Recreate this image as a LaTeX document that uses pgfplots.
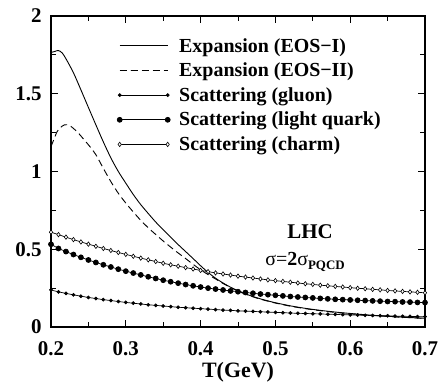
\documentclass[border=0pt]{standalone}
\usepackage{fontspec}
\setmainfont{Liberation Serif}
\usepackage{pgfplots}
\pgfplotsset{compat=1.18}
\usepackage{pgfplotstable}

\pgfplotstableread{
T g q c
0.20 0.238 0.532 0.610
0.21 0.226 0.505 0.594
0.22 0.216 0.485 0.578
0.23 0.207 0.466 0.562
0.24 0.198 0.448 0.547
0.25 0.190 0.431 0.533
0.26 0.183 0.415 0.519
0.27 0.176 0.400 0.505
0.28 0.170 0.386 0.492
0.29 0.164 0.372 0.479
0.30 0.158 0.359 0.467
0.31 0.153 0.347 0.455
0.32 0.148 0.335 0.443
0.33 0.143 0.323 0.432
0.34 0.139 0.312 0.421
0.35 0.135 0.301 0.410
0.36 0.131 0.291 0.400
0.37 0.127 0.282 0.391
0.38 0.124 0.273 0.382
0.39 0.121 0.265 0.373
0.40 0.118 0.257 0.364
0.41 0.115 0.250 0.356
0.42 0.112 0.244 0.348
0.43 0.109 0.238 0.341
0.44 0.107 0.232 0.334
0.45 0.104 0.227 0.327
0.46 0.102 0.222 0.321
0.47 0.100 0.217 0.315
0.48 0.098 0.212 0.309
0.49 0.096 0.208 0.303
0.50 0.094 0.204 0.298
0.51 0.092 0.200 0.293
0.52 0.090 0.196 0.288
0.53 0.088 0.193 0.283
0.54 0.087 0.190 0.278
0.55 0.085 0.187 0.274
0.56 0.084 0.184 0.269
0.57 0.082 0.181 0.265
0.58 0.081 0.178 0.261
0.59 0.079 0.176 0.257
0.60 0.078 0.174 0.253
0.61 0.077 0.172 0.249
0.62 0.075 0.170 0.246
0.63 0.074 0.168 0.242
0.64 0.073 0.166 0.239
0.65 0.072 0.164 0.235
0.66 0.070 0.163 0.232
0.67 0.069 0.161 0.229
0.68 0.068 0.160 0.226
0.69 0.067 0.158 0.223
0.70 0.066 0.157 0.220
}\scat

\pgfplotstableread{
T y
0.200 1.765
0.205 1.772
0.210 1.778
0.215 1.762
0.220 1.725
0.230 1.635
0.240 1.525
0.250 1.412
0.260 1.300
0.270 1.190
0.280 1.088
0.290 1.000
0.300 0.925
0.310 0.852
0.320 0.787
0.330 0.730
0.340 0.675
0.350 0.625
0.360 0.578
0.370 0.530
0.380 0.485
0.390 0.440
0.400 0.394
0.410 0.351
0.420 0.314
0.430 0.283
0.440 0.256
0.450 0.233
0.460 0.213
0.470 0.196
0.480 0.181
0.490 0.168
0.500 0.156
0.520 0.136
0.540 0.120
0.560 0.107
0.580 0.096
0.600 0.087
0.620 0.079
0.640 0.072
0.660 0.066
0.680 0.061
0.700 0.056
}\eosI

\pgfplotstableread{
T y
0.200 1.160
0.205 1.220
0.208 1.255
0.212 1.280
0.218 1.300
0.225 1.295
0.235 1.255
0.245 1.200
0.252 1.160
0.260 1.108
0.270 1.020
0.280 0.935
0.290 0.860
0.300 0.797
0.310 0.740
0.320 0.686
0.330 0.638
0.340 0.595
0.350 0.553
0.360 0.514
0.370 0.476
0.380 0.440
0.390 0.403
0.400 0.368
0.410 0.337
0.420 0.309
0.430 0.280
0.440 0.254
0.450 0.231
0.460 0.211
0.470 0.194
0.480 0.179
0.490 0.166
0.500 0.154
0.520 0.134
0.540 0.118
0.560 0.105
0.580 0.094
0.600 0.085
0.620 0.077
0.640 0.071
0.660 0.065
0.680 0.060
0.700 0.055
}\eosII

\begin{document}
\begin{tikzpicture}
\useasboundingbox (0,0) rectangle (438bp,385bp);
\begin{axis}[
  at={(51bp,58bp)}, anchor=south west,
  scale only axis, width=374bp, height=311bp,
  xmin=0.2, xmax=0.7, ymin=0, ymax=2,
  xtick={0.2,0.3,0.4,0.5,0.6,0.7},
  ytick={0,0.5,1,1.5,2},
  xticklabels={0.2,0.3,0.4,0.5,0.6,0.7},
  yticklabels={0,0.5,1,1.5,2},
  minor tick num=1,
  tick align=inside,
  major tick length=7bp, minor tick length=5bp,
  every tick/.style={line width=0.9bp, black},
  axis line style={line width=1.3bp},
  tick label style={font=\bfseries\fontsize{21}{21}\selectfont},
  /pgf/number format/assume math mode=true,
  yticklabel style={xshift=-6bp},
  xticklabel style={yshift=-11bp},
  xlabel={T(GeV)},
  xlabel style={at={(axis description cs:0.5,0)}, anchor=north, yshift=-35bp, inner sep=0pt, font=\bfseries\fontsize{22}{22}\selectfont},
  legend cell align=left,
  legend image code/.code={\draw[#1] plot coordinates {(0bp,0bp) (48bp,0bp)};},
  legend style={draw=none, fill=none, at={(0.1765,0.929)}, anchor=north west,
    font=\bfseries\fontsize{20}{24}\selectfont, inner sep=0pt, row sep=9.3bp, column sep=9bp,
    nodes={inner sep=0pt}},
]
\addplot[black, line width=0.9bp, smooth] table[x=T,y=y] {\eosI};
\addlegendentry{Expansion (EOS−I)}
\addplot[black, line width=0.9bp, dash pattern=on 7bp off 4bp, smooth] table[x=T,y=y] {\eosII};
\addlegendentry{Expansion (EOS−II)}
\addplot[black, line width=0.7bp, mark=*, mark size=1.5bp] table[x=T,y=g] {\scat};
\addlegendentry{Scattering (gluon)}
\addplot[black, line width=0.7bp, mark=*, mark size=2.5bp] table[x=T,y=q] {\scat};
\addlegendentry{Scattering (light quark)}
\addplot[black, line width=0.7bp, mark=diamond*, mark size=2.2bp, mark options={fill=white, line width=0.6bp}] table[x=T,y=c] {\scat};
\addlegendentry{Scattering (charm)}
\node[font=\bfseries\fontsize{21}{21}\selectfont] at (axis cs:0.5463,0.611) {LHC};
\node[font=\fontsize{20}{20}\selectfont] at (axis cs:0.5396,0.418) {σ=\textbf{2}σ\raisebox{-4bp}{\bfseries\fontsize{13}{13}\selectfont PQCD}};
\end{axis}
\end{tikzpicture}
\end{document}
